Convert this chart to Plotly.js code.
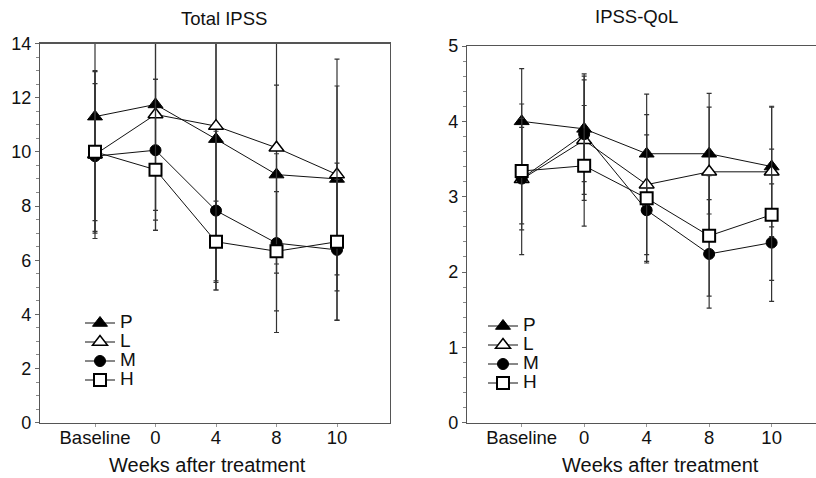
<!DOCTYPE html>
<html>
<head>
<meta charset="utf-8">
<script src="https://cdn.plot.ly/plotly-3.0.1.min.js"></script>
<style>html,body{margin:0;padding:0;background:#fff;}#chart{width:816px;height:478px;}</style>
</head>
<body>
<div id="chart"></div>
<script>
// Categories (x axis)
const weeks = ["Baseline", "0", "4", "8", "10"];
const groupNames = ["P", "L", "M", "H"];

// Total IPSS: means and error extents (upper / lower)
const ipssP = [11.3, 11.75, 10.47, 9.16, 9.0];
const ipssPUp = [4.5, 4.6, 4.0, 3.3, 3.43];
const ipssPDn = [4.5, 4.65, 5.57, 3.3, 3.54];
const ipssL = [9.9, 11.38, 10.95, 10.15, 9.16];
const ipssLUp = [3.06, 3.9, 3.5, 4.63, 4.26];
const ipssLDn = [2.84, 3.9, 5.71, 4.63, 4.29];
const ipssM = [9.84, 10.06, 7.83, 6.63, 6.38];
const ipssMUp = [2.68, 2.62, 2.93, 3.3, 2.6];
const ipssMDn = [2.38, 2.22, 2.93, 3.3, 2.59];
const ipssH = [10.0, 9.34, 6.68, 6.33, 6.68];
const ipssHUp = [3.0, 3.34, 1.5, 2.2, 2.9];
const ipssHDn = [3.0, 2.24, 1.5, 2.2, 2.9];

// IPSS-QoL: means and symmetric errors
const qolP = [4.0, 3.9, 3.57, 3.57, 3.4];
const qolPErr = [0.7, 0.7, 0.79, 0.8, 0.8];
const qolL = [3.23, 3.75, 3.16, 3.33, 3.33];
const qolLErr = [1.0, 0.8, 0.93, 0.86, 0.86];
const qolM = [3.24, 3.83, 2.82, 2.24, 2.39];
const qolMErr = [0.68, 0.8, 0.7, 0.72, 0.78];
const qolH = [3.34, 3.41, 2.98, 2.48, 2.76];
const qolHErr = [0.7, 0.8, 0.84, 0.8, 0.87];

const FONT = "Liberation Sans, Arial, sans-serif";
const styles = {
  P: {symbol: "triangle-up", size: 13, color: "#000", lw: 1},
  L: {symbol: "triangle-up", size: 13, color: "#fff", lw: 1.5},
  M: {symbol: "circle", size: 11, color: "#000", lw: 1},
  H: {symbol: "square", size: 12, color: "#fff", lw: 2}
};

function mk(name, y, up, dn, xa, ya, leg) {
  const s = styles[name];
  return {
    type: "scatter", mode: "lines+markers", x: weeks, y: y,
    xaxis: xa, yaxis: ya, legend: leg,
    name: '<span style="font-size:19px">' + name + '</span>',
    line: {color: "#111", width: 1},
    marker: {symbol: s.symbol, size: s.size, color: s.color, line: {color: "#000", width: s.lw}},
    error_y: {type: "data", symmetric: false, array: up, arrayminus: dn, color: "#333", thickness: 1.2, width: 2.5},
    cliponaxis: true
  };
}

const data = [
  mk("P", ipssP, ipssPUp, ipssPDn, "x", "y", "legend"),
  mk("L", ipssL, ipssLUp, ipssLDn, "x", "y", "legend"),
  mk("M", ipssM, ipssMUp, ipssMDn, "x", "y", "legend"),
  mk("H", ipssH, ipssHUp, ipssHDn, "x", "y", "legend"),
  mk("P", qolP, qolPErr, qolPErr, "x2", "y2", "legend2"),
  mk("L", qolL, qolLErr, qolLErr, "x2", "y2", "legend2"),
  mk("M", qolM, qolMErr, qolMErr, "x2", "y2", "legend2"),
  mk("H", qolH, qolHErr, qolHErr, "x2", "y2", "legend2")
];

const W = 816, H = 478;
const px = v => v / W;
const py = v => (H - v) / H;

const xBase = {
  type: "category", showgrid: false, zeroline: false, showline: true,
  linecolor: "#555", linewidth: 1.2, ticks: "outside", ticklen: 3, tickcolor: "#999",
  ticklabelstandoff: -5,
  tickfont: {family: FONT, size: 18.5, color: "#111"}, fixedrange: true
};
const yBase = {
  showgrid: false, zeroline: false, showline: true, linecolor: "#555", linewidth: 1.2,
  ticks: "outside", ticklen: 4, tickcolor: "#666",
  tickfont: {family: FONT, size: 18, color: "#111"}, fixedrange: true
};

const layout = {
  width: W, height: H,
  margin: {l: 0, r: 0, t: 0, b: 0},
  paper_bgcolor: "#fff", plot_bgcolor: "#fff",
  font: {family: FONT, color: "#111"},
  xaxis: Object.assign({}, xBase, {domain: [px(40), px(390)], range: [-0.909, 4.876], anchor: "y", mirror: true}),
  yaxis: Object.assign({}, yBase, {domain: [py(422.7), py(43.5)], range: [0, 14], dtick: 2, anchor: "x", mirror: true,
    minor: {dtick: 0.5, ticks: "outside", ticklen: 3, tickcolor: "#888"}}),
  xaxis2: Object.assign({}, xBase, {domain: [px(467), 1], range: [-0.875, 4.71], anchor: "y2", mirror: true}),
  yaxis2: Object.assign({}, yBase, {domain: [py(422.7), py(46)], range: [0, 5], dtick: 1, anchor: "x2", mirror: false,
    minor: {dtick: 0.2, ticks: "outside", ticklen: 3, tickcolor: "#888"}}),
  showlegend: true,
  legend: {x: px(80), y: py(308.5), xanchor: "left", yanchor: "top", bgcolor: "rgba(0,0,0,0)",
    font: {family: FONT, size: 12, color: "#111"}, itemwidth: 30, tracegroupgap: 0},
  legend2: {x: px(483), y: py(311.5), xanchor: "left", yanchor: "top", bgcolor: "rgba(0,0,0,0)",
    font: {family: FONT, size: 12, color: "#111"}, itemwidth: 30, tracegroupgap: 0},
  annotations: [
    {text: "Total IPSS", xref: "paper", yref: "paper", x: px(224), y: py(18), xanchor: "center", yanchor: "middle",
      showarrow: false, font: {family: FONT, size: 18.5, color: "#111"}},
    {text: "IPSS-QoL", xref: "paper", yref: "paper", x: px(636), y: py(16.5), xanchor: "center", yanchor: "middle",
      showarrow: false, font: {family: FONT, size: 18.5, color: "#111"}},
    {text: "Weeks after treatment", xref: "paper", yref: "paper", x: px(207), y: py(465), xanchor: "center", yanchor: "middle",
      showarrow: false, font: {family: FONT, size: 20, color: "#111"}},
    {text: "Weeks after treatment", xref: "paper", yref: "paper", x: px(660), y: py(465), xanchor: "center", yanchor: "middle",
      showarrow: false, font: {family: FONT, size: 20, color: "#111"}}
  ]
};

Plotly.newPlot("chart", data, layout, {displayModeBar: false, staticPlot: true});
</script>
</body>
</html>
